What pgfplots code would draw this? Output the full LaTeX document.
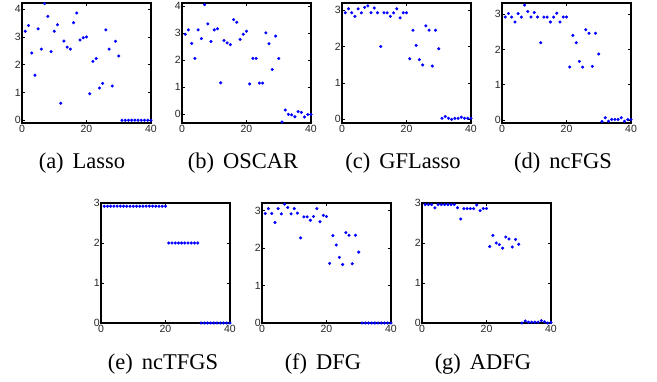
\documentclass[border=0pt]{standalone}
\usepackage{pgfplots}
\pgfplotsset{compat=1.18}
\usepackage{fontspec}
\setmainfont{Liberation Serif}
\newfontfamily\ticksf{Liberation Sans}
\definecolor{mblue}{rgb}{0,0,1}
\pgfplotsset{
  panel/.style={
    scale only axis, width=129pt, height=120pt, anchor=south west,
    xmin=0, xmax=40, xtick={0,20,40},
    tick align=inside, tick pos=both, major tick length=3pt,
    axis line style={line width=1.3pt},
    every tick/.style={black, line width=0.4pt},
    tick label style={font=\ticksf\fontsize{10.5}{11}\selectfont, text=black!85},
    yticklabel style={inner sep=1pt},
    xticklabel style={inner sep=1.5pt},
    /pgf/number format/assume math mode=true,
    clip=false,
  },
  dots/.style={only marks, mark=*, mark size=1.35pt, mblue, mark options={draw=none, fill=mblue}},
}
\begin{document}
\begin{tikzpicture}[x=1pt,y=1pt]
\useasboundingbox (0,0) rectangle (657,381);
% (a) Lasso
\begin{axis}[panel, at={(22pt,258pt)}, ymin=-0.1, ymax=4.22, ytick={0,1,2,3,4}]
\addplot[dots] table {
x y
1 3.20
2 3.41
3 2.42
4 1.62
5 3.29
6 2.56
7 4.20
8 3.74
9 2.47
10 3.20
11 3.44
12 0.61
13 2.85
14 2.63
15 2.56
16 3.51
17 3.86
18 2.89
19 2.97
20 3.00
21 0.95
22 2.12
23 2.22
24 1.16
25 1.33
26 3.25
27 2.56
28 1.23
29 2.84
30 2.31
31 0
32 0
33 0
34 0
35 0
36 0
37 0
38 0
39 0
40 0
};
\end{axis}
% (b) OSCAR
\begin{axis}[panel, at={(182pt,258pt)}, ymin=-0.32, ymax=4.1, ytick={0,1,2,3,4}]
\addplot[dots] table {
x y
1 2.95
2 3.11
3 2.61
4 2.06
5 3.11
6 2.79
7 4.04
8 3.33
9 2.68
10 3.11
11 3.15
12 1.16
13 2.72
14 2.63
15 2.57
16 3.49
17 3.39
18 2.76
19 2.95
20 3.06
21 1.12
22 2.06
23 2.06
24 1.15
25 1.15
26 3.00
27 2.60
28 1.65
29 2.88
30 2.06
31 -0.28
32 0.16
33 0.00
34 -0.02
35 -0.09
36 0.10
37 0.07
38 -0.10
39 -0.01
40 -0.01
};
\end{axis}
% (c) GFLasso
\begin{axis}[panel, at={(342pt,258pt)}, ymin=-0.11, ymax=3.2, ytick={0,1,2,3}]
\addplot[dots] table {
x y
1 2.93
2 3.04
3 2.93
4 2.83
5 3.04
6 2.93
7 3.08
8 3.12
9 2.93
10 3.06
11 2.93
12 2.00
13 2.93
14 2.93
15 2.83
16 2.93
17 3.04
18 2.79
19 2.93
20 2.93
21 1.66
22 2.45
23 2.03
24 1.64
25 1.49
26 2.57
27 2.45
28 1.46
29 2.45
30 1.94
31 0.02
32 0.07
33 0.02
34 -0.01
35 0.02
36 0.02
37 0.05
38 0.02
39 0.02
40 0.02
};
\end{axis}
% (d) ncFGS
\begin{axis}[panel, at={(502pt,258pt)}, ymin=-0.09, ymax=3.32, ytick={0,1,2,3}]
\addplot[dots] table {
x y
1 2.92
2 3.02
3 2.92
4 2.78
5 3.02
6 2.92
7 3.26
8 3.08
9 2.92
10 3.05
11 2.92
12 2.19
13 2.92
14 2.92
15 2.78
16 2.92
17 3.03
18 2.78
19 2.92
20 2.92
21 1.50
22 2.40
23 2.19
24 1.66
25 1.50
26 2.56
27 2.46
28 1.52
29 2.46
30 1.87
31 -0.05
32 0.06
33 -0.04
34 0.01
35 0.01
36 0.01
37 0.06
38 -0.04
39 0.01
40 0.01
};
\end{axis}
% (e) ncTFGS
\begin{axis}[panel, at={(101pt,58pt)}, ymin=0, ymax=3, ytick={0,1,2,3}]
\addplot[dots] table {
x y
1 2.92
2 2.92
3 2.92
4 2.92
5 2.92
6 2.92
7 2.92
8 2.92
9 2.92
10 2.92
11 2.92
12 2.92
13 2.92
14 2.92
15 2.92
16 2.92
17 2.92
18 2.92
19 2.92
20 2.92
21 2.00
22 2.00
23 2.00
24 2.00
25 2.00
26 2.00
27 2.00
28 2.00
29 2.00
30 2.00
31 0
32 0
33 0
34 0
35 0
36 0
37 0
38 0
39 0
40 0
};
\end{axis}
% (f) DFG
\begin{axis}[panel, at={(262pt,58pt)}, ymin=0, ymax=3.2, ytick={0,1,2,3}]
\addplot[dots] table {
x y
1 2.92
2 3.05
3 2.92
4 2.68
5 3.05
6 2.91
7 3.17
8 3.08
9 2.91
10 3.05
11 2.93
12 2.27
13 2.83
14 2.83
15 2.74
16 2.84
17 3.05
18 2.70
19 2.87
20 2.84
21 1.59
22 2.33
23 2.08
24 1.75
25 1.56
26 2.41
27 2.34
28 1.58
29 2.34
30 1.89
31 0
32 0
33 0
34 0
35 0
36 0
37 0
38 0
39 0
40 0
};
\end{axis}
% (g) ADFG
\begin{axis}[panel, at={(422pt,58pt)}, ymin=0, ymax=3, ytick={0,1,2,3}]
\addplot[dots] table {
x y
1 2.96
2 2.96
3 2.96
4 2.88
5 2.96
6 2.96
7 2.96
8 2.96
9 2.96
10 2.96
11 2.88
12 2.60
13 2.86
14 2.86
15 2.86
16 2.86
17 2.95
18 2.81
19 2.86
20 2.86
21 1.91
22 2.19
23 2.00
24 1.96
25 1.87
26 2.15
27 2.10
28 1.90
29 2.09
30 1.97
31 0.00
32 0.05
33 0.02
34 0.02
35 0.02
36 0.02
37 0.06
38 0.03
39 0.00
40 0.01
};
\end{axis}
% captions
\begin{scope}[every node/.style={anchor=base, inner sep=0pt, font=\fontsize{22.5}{25}\selectfont}]
\node at (82,212) {(a)\hspace{0.4em}Lasso};
\node at (243,212) {(b)\hspace{0.4em}OSCAR};
\node at (403,212) {(c)\hspace{0.4em}GFLasso};
\node at (563,212) {(d)\hspace{0.4em}ncFGS};
\node at (163,12) {(e)\hspace{0.4em}ncTFGS};
\node at (323,12) {(f)\hspace{0.4em}DFG};
\node at (483,12) {(g)\hspace{0.4em}ADFG};
\end{scope}
\end{tikzpicture}
\end{document}
